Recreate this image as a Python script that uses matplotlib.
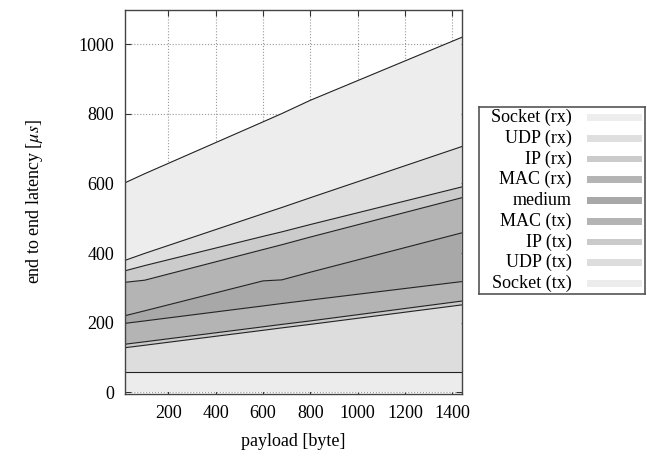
import numpy as np
import matplotlib

matplotlib.use("Agg")
import matplotlib.pyplot as plt
from matplotlib.patches import Rectangle

plt.rcParams["font.family"] = ["Liberation Serif", "DejaVu Serif"]
plt.rcParams["mathtext.fontset"] = "stix"

# payload sizes [byte]
payload = [17, 100, 600, 680, 800, 1440]

# per-layer latency contributions [us], bottom to top
socket_tx = [58, 58, 58, 58, 58, 58]
udp_tx = [70, 77, 120, 127, 137, 193]
ip_tx = [10, 10, 10, 10, 10, 11]
mac_tx = [60, 60, 60, 60, 60, 56]
medium = [22, 29, 72, 68, 80, 140]
mac_rx = [96, 88, 90, 101, 101, 101]
ip_rx = [33, 42, 38, 37, 36, 31]
udp_rx = [30, 35, 65, 70, 77, 116]
socket_rx = [223, 229, 264, 270, 280, 314]

layers = [socket_tx, udp_tx, ip_tx, mac_tx, medium, mac_rx, ip_rx, udp_rx, socket_rx]
labels = ["Socket (tx)", "UDP (tx)", "IP (tx)", "MAC (tx)", "medium",
          "MAC (rx)", "IP (rx)", "UDP (rx)", "Socket (rx)"]
colors = ["#ececec", "#dddddd", "#cacaca", "#b4b4b4", "#a8a8a8",
          "#b4b4b4", "#cbcbcb", "#dfdfdf", "#ededed"]

x_ticks = [200, 400, 600, 800, 1000, 1200, 1400]
y_ticks = [0, 200, 400, 600, 800, 1000]

fig = plt.figure(figsize=(6.47, 4.57), dpi=100)
ax = fig.add_axes([0.1932, 0.1379, 0.5204, 0.8413])

ax.stackplot(payload, *layers, colors=colors, linewidth=0, zorder=2)
tops = np.cumsum(np.asarray(layers, dtype=float), axis=0)
for top in tops:
    ax.plot(payload, top, color="#222222", linewidth=0.8, zorder=3)

ax.set_xlim(17, 1440)
ax.set_ylim(-5, 1100)
ax.set_xticks(x_ticks)
ax.set_yticks(y_ticks)
ax.grid(True, linestyle=":", color="#999999", linewidth=0.8, zorder=1)
ax.set_axisbelow(True)
ax.tick_params(direction="in", top=True, right=True, length=4,
               labelsize=13, color="#333333", pad=8)
for s in ax.spines.values():
    s.set_color("#444444")
    s.set_linewidth(1.0)
    s.set_zorder(4)

ax.set_xlabel("payload [byte]", fontsize=13, labelpad=8)
ax.set_ylabel(r"end to end latency [$\mu s$]", fontsize=13, labelpad=24)

# gnuplot-style key: text right-aligned, colour sample on the right
lax = fig.add_axes([0.7403, 0.3567, 0.2566, 0.4092])
lax.set_xlim(0, 1)
lax.set_ylim(0, 1)
lax.set_xticks([])
lax.set_yticks([])
for s in lax.spines.values():
    s.set_color("#555555")
    s.set_linewidth(1.2)
n = len(labels)
for i, (lab, col) in enumerate(zip(labels[::-1], colors[::-1])):
    yc = 1 - (i + 0.5) / n
    lax.text(0.558, yc, lab, ha="right", va="center", fontsize=13)
    lax.add_patch(Rectangle((0.649, yc - 0.018), 0.335, 0.036,
                            facecolor=col, edgecolor="none"))

fig.savefig("out.png", dpi=100)
